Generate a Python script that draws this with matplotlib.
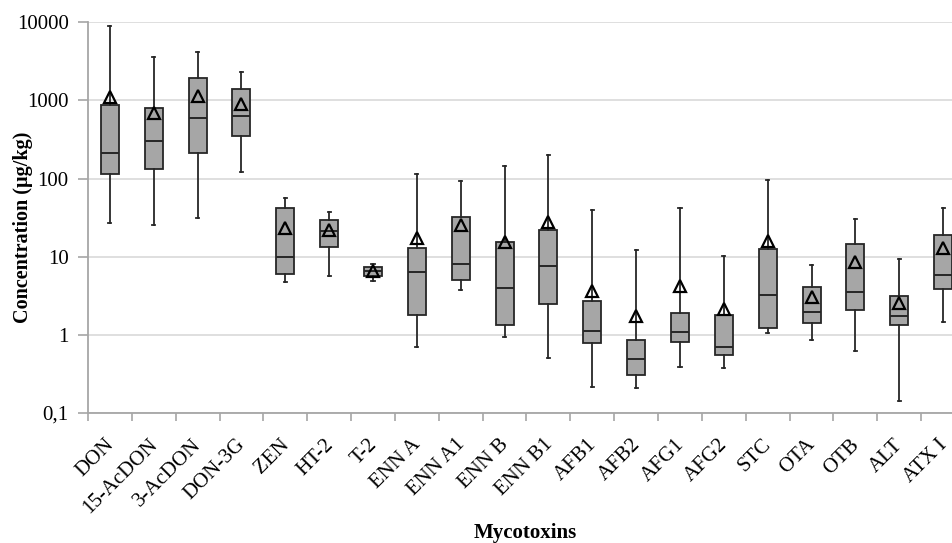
import matplotlib
matplotlib.use("Agg")
import matplotlib.pyplot as plt
import matplotlib.transforms as mtransforms

categories = ["DON", "15-AcDON", "3-AcDON", "DON-3G", "ZEN", "HT-2", "T-2",
              "ENN A", "ENN A1", "ENN B", "ENN B1", "AFB1", "AFB2", "AFG1",
              "AFG2", "STC", "OTA", "OTB", "ALT", "ATX I"]
whisker_low = [26.8, 25.8, 31, 122, 4.75, 5.6, 4.9, 0.70, 3.8, 0.94, 0.5,
               0.217, 0.211, 0.39, 0.373, 1.07, 0.85, 0.63, 0.141, 1.45]
q1 = [115, 132, 214, 348, 5.96, 13.5, 5.68, 1.78, 5.1, 1.35, 2.5,
      0.78, 0.309, 0.80, 0.55, 1.22, 1.42, 2.1, 1.32, 3.91]
median = [211, 304, 603, 634, 10.0, 21.6, 6.58, 6.44, 8.0, 3.95, 7.7,
          1.13, 0.486, 1.1, 0.69, 3.2, 1.98, 3.57, 1.76, 5.85]
q3 = [875, 792, 1950, 1400, 42.5, 29.6, 7.4, 12.9, 32.6, 15.3, 21.8,
      2.74, 0.86, 1.89, 1.79, 12.7, 4.1, 14.7, 3.11, 18.8]
whisker_high = [9057, 3612, 4217, 2280, 56.5, 37.8, 8.16, 116, 92.4, 147, 203,
                39.7, 12.2, 42, 10.1, 96, 7.76, 30.5, 9.27, 42.5]
mean = [1110, 692, 1150, 901, 23.6, 21.8, 6.5, 17.4, 25.8, 15.5, 27.6,
        3.65, 1.76, 4.23, 2.14, 15.9, 3.05, 8.65, 2.56, 12.9]
ytick_values = [0.1, 1, 10, 100, 1000, 10000]
ytick_labels = ["0,1", "1", "10", "100", "1000", "10000"]

plt.rcParams['font.family'] = ['Liberation Serif', 'DejaVu Serif']

fig = plt.figure(figsize=(9.53, 5.43), dpi=100)
ax = fig.add_axes([88 / 953, 1 - 413 / 543, 877 / 953, (413 - 22.3) / 543])

stats = []
for i, c in enumerate(categories):
    stats.append(dict(label=c, whislo=whisker_low[i], q1=q1[i], med=median[i],
                      q3=q3[i], whishi=whisker_high[i], mean=mean[i], fliers=[]))

edge = "#262626"
ax.bxp(stats, positions=range(len(categories)), widths=0.41,
       patch_artist=True, showmeans=True, capwidths=0.07,
       boxprops=dict(facecolor="#a6a6a6", edgecolor=edge, linewidth=1.3),
       medianprops=dict(color=edge, linewidth=1.4),
       whiskerprops=dict(color=edge, linewidth=1.3),
       capprops=dict(color=edge, linewidth=1.3),
       meanprops=dict(marker="^", markerfacecolor="none", markeredgecolor="black",
                      markersize=8.5, markeredgewidth=1.6))

ax.set_yscale("log")
ax.set_ylim(0.1, 10000)
ax.set_xlim(-0.5, len(categories) - 0.5)
ax.set_yticks(ytick_values)
ax.set_yticklabels(ytick_labels, fontsize=15)
ax.minorticks_off()
ax.yaxis.grid(True, color="#d9d9d9", linewidth=1.2)
ax.set_axisbelow(True)

ax.set_xticks(range(len(categories)))
ax.set_xticklabels(categories, rotation=45, ha="right", rotation_mode="anchor",
                   fontsize=15)
ax.tick_params(axis="x", length=0, pad=16)
offset = mtransforms.ScaledTranslation(-4 / 72, 0, fig.dpi_scale_trans)
for lab in ax.get_xticklabels():
    lab.set_transform(lab.get_transform() + offset)
ax.set_xticks([i - 0.5 for i in range(len(categories) + 1)], minor=True)
ax.tick_params(axis="x", which="minor", length=6, color="#a6a6a6", width=1.2)
ax.tick_params(axis="y", length=7, color="#a6a6a6", width=1.2, pad=7)

for s in ["top", "right"]:
    ax.spines[s].set_visible(False)
for s in ["left", "bottom"]:
    ax.spines[s].set_color("#a6a6a6")
    ax.spines[s].set_linewidth(1.3)

fig.text(23 / 953, 1 - 227 / 543, "Concentration (µg/kg)", fontsize=14.5,
         fontweight="bold", rotation=90, ha="center", va="center")
fig.text(525 / 953, 1 - 533 / 543, "Mycotoxins", fontsize=15, fontweight="bold",
         ha="center", va="center")

fig.savefig("out.png", dpi=100)
